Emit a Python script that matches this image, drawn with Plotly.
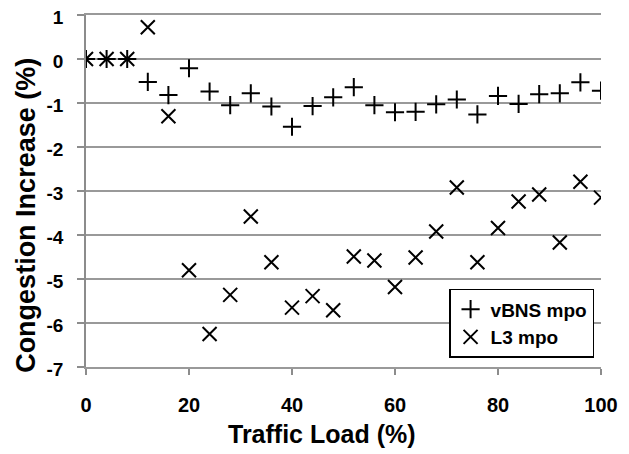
import plotly.graph_objects as go

traffic_load = [0, 4, 8, 12, 16, 20, 24, 28, 32, 36, 40, 44, 48, 52, 56, 60, 64, 68, 72, 76, 80, 84, 88, 92, 96, 100]
vbns_mpo = [0, 0, 0, -0.52, -0.82, -0.21, -0.74, -1.05, -0.78, -1.08, -1.54, -1.07, -0.87,
            -0.64, -1.05, -1.21, -1.20, -1.03, -0.92, -1.26, -0.84, -1.02, -0.80, -0.78, -0.53, -0.72]
l3_mpo = [0, 0, 0, 0.72, -1.30, -4.80, -6.25, -5.36, -3.58, -4.62, -5.65, -5.39, -5.71,
          -4.49, -4.58, -5.18, -4.51, -3.92, -2.92, -4.62, -3.84, -3.24, -3.08, -4.17, -2.79, -3.15]
x_ticks = [0, 20, 40, 60, 80, 100]
y_ticks = [1, 0, -1, -2, -3, -4, -5, -6, -7]
x_title = "Traffic Load (%)"
y_title = "Congestion Increase (%)"

FONT = "Liberation Sans"

def b(s):
    return "<b>" + s + "</b>"

fig = go.Figure()
fig.add_trace(go.Scatter(
    x=traffic_load, y=vbns_mpo, mode="markers", name=b("vBNS mpo"), legendgroup="a",
    marker=dict(symbol="cross-thin", size=13, line=dict(width=2, color="black"), color="black"),
))
fig.add_trace(go.Scatter(
    x=traffic_load, y=l3_mpo, mode="markers", name=b("L3 mpo"), legendgroup="b",
    marker=dict(symbol="x-thin", size=14, line=dict(width=2, color="black"), color="black"),
))

fig.update_layout(
    width=629, height=454,
    margin=dict(l=78, r=36, t=7, b=95, autoexpand=False),
    plot_bgcolor="white", paper_bgcolor="white",
    font=dict(family=FONT, color="black", size=19, weight="bold"),
    showlegend=True,
    legend=dict(
        x=0.705, y=0.222, xanchor="left", yanchor="top",
        bordercolor="black", borderwidth=1.5, bgcolor="white",
        font=dict(family=FONT, size=19, weight="bold"),
        tracegroupgap=0, itemwidth=30,
    ),
    xaxis=dict(
        range=[0, 100], tickvals=x_ticks, ticktext=[b(str(v)) for v in x_ticks],
        showgrid=False, zeroline=False, automargin=False, mirror=True,
        showline=True, linecolor="#999999", linewidth=1.5,
        ticks="outside", ticklen=6, tickcolor="#8c8c8c", tickwidth=1.5,
        tickfont=dict(family=FONT, size=20, weight="bold"),
        ticklabeloverflow="allow",
        ticklabelstandoff=13,
    ),
    yaxis=dict(
        range=[-7, 1], tickvals=y_ticks, ticktext=[b(str(v)) for v in y_ticks],
        showgrid=True, gridcolor="#999999", gridwidth=1.5, zeroline=False, automargin=False,
        showline=True, linecolor="#8c8c8c", linewidth=1.5,
        ticks="outside", ticklen=7, tickcolor="#8c8c8c", tickwidth=1.5,
        tickfont=dict(family=FONT, size=19, weight="bold"),
        ticklabeloverflow="allow", ticklabelshift=2,
        ticklabelstandoff=10,
    ),
    annotations=[
        dict(text=b(x_title), xref="paper", yref="paper", x=0.459, y=-0.19,
             xanchor="center", yanchor="middle", showarrow=False,
             font=dict(family=FONT, size=25, weight="bold")),
        dict(text=b(y_title), xref="paper", yref="paper", x=-0.118, y=0.43,
             xanchor="center", yanchor="middle", showarrow=False, textangle=-90,
             font=dict(family=FONT, size=27, weight="bold")),
    ],
)

fig.write_html("out.html")
